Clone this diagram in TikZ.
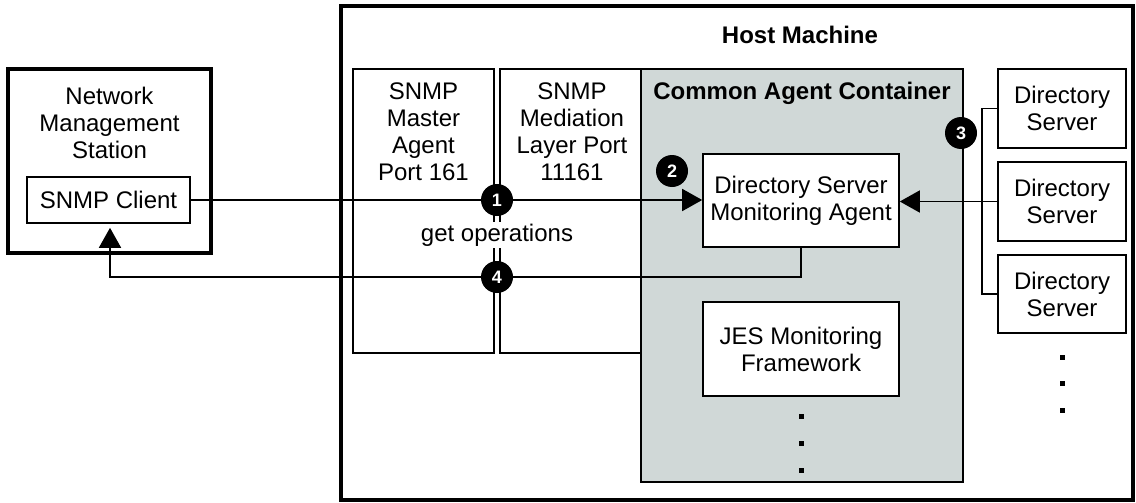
\documentclass[tikz,border=0pt]{standalone}
\usepackage{fontspec}
\setmainfont{Liberation Sans}
\usepackage{xcolor}
\usepackage{tikz}
\usetikzlibrary{shapes,arrows.meta,positioning,fit,backgrounds}
\definecolor{cacgray}{RGB}{208,216,215}

\begin{document}
\begin{tikzpicture}[
    x=0.5pt, y=-0.5pt,
    box/.style={rectangle, draw, line width=0.8pt, fill=white, inner sep=0pt, align=center, font=\fontsize{12}{13.5}\selectfont},
    bigbox/.style={rectangle, draw, line width=2pt, fill=white, inner sep=0pt},
    txt/.style={inner sep=0pt, align=center, font=\fontsize{12}{13.5}\selectfont},
    title/.style={inner sep=0pt, font=\fontsize{12}{13.5}\selectfont\bfseries},
    num/.style={circle, fill=black, text=white, inner sep=0pt, minimum size=16pt, font=\fontsize{9}{9}\selectfont\bfseries},
    arrow/.style={-{Triangle[length=10pt, width=11pt]}, line width=0.8pt},
    wire/.style={line width=0.8pt}
]
\useasboundingbox (0,0) rectangle (1136,503);

% Host Machine
\node[bigbox, minimum width=396pt, minimum height=247pt] (host) at (737,253) {};
\node[title] (hosttitle) at (800,35) {Host Machine};

% Network Management Station
\node[bigbox, minimum width=101.5pt, minimum height=92pt] (nms) at (109.5,161) {};
\node[txt] (nmstext) at (109.5,122.5) {Network\\Management\\Station};
\node[box, minimum width=81.5pt, minimum height=23pt] (client) at (108.5,200) {SNMP Client};

% SNMP boxes
\node[box, minimum width=70.5pt, minimum height=142pt] (master) at (423.5,211) {};
\node[txt] (mastertext) at (423.5,132) {SNMP\\Master\\Agent\\Port 161};
\node[box, minimum width=70.5pt, minimum height=142pt] (mediation) at (570.5,211) {};
\node[txt] (mediationtext) at (572,132) {SNMP\\Mediation\\Layer Port\\11161};

% Common Agent Container
\node[box, fill=cacgray, minimum width=161pt, minimum height=206.5pt] (cac) at (802,275.5) {};
\node[title] (cactitle) at (802,93) {Common Agent Container};
\node[box, minimum width=98pt, minimum height=46.5pt] (dsma) at (801,200.5) {Directory Server\\Monitoring Agent};
\node[box, minimum width=98pt, minimum height=47pt] (jes) at (801,349) {JES Monitoring\\Framework};
\foreach \y in {416,443,470}
    \fill (801,\y) ++(-2.5,-2.5) rectangle ++(5,5);

% Directory Servers
\node[box, minimum width=64pt, minimum height=39.5pt] (ds1) at (1062,108.5) {Directory\\Server};
\node[box, minimum width=64pt, minimum height=39.5pt] (ds2) at (1062,201.5) {Directory\\Server};
\node[box, minimum width=64pt, minimum height=39pt] (ds3) at (1062,294) {Directory\\Server};
\foreach \y in {357,383,410}
    \fill (1062,\y) ++(-2.5,-2.5) rectangle ++(5,5);

% Arrows
\draw[arrow] (client.east) -- (client.east -| dsma.west);
\draw[wire] (ds1.west) -- ++(-15,0) |- (ds3.west);
\draw[arrow] (ds2.west) -- (ds2.west -| dsma.east);
\coordinate (back) at (110,277);
\draw[arrow, shorten >=2pt] (dsma.south) |- (back) -- (back |- client.south);

% Step numbers
\node[num] (n1) at (497,200) {1};
\node[num] (n2) at (672,171) {2};
\node[num] (n3) at (961,133) {3};
\node[num] (n4) at (497,277) {4};
\node[txt, fill=white, inner sep=1pt] (getops) at (497,235) {get operations};

\end{tikzpicture}
\end{document}
